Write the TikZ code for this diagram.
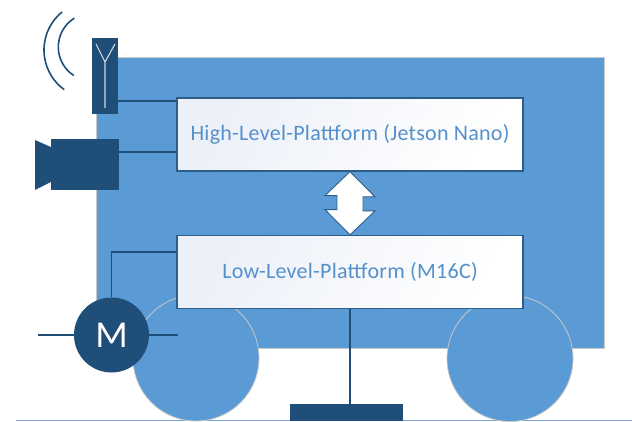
\documentclass[tikz,border=0pt]{standalone}
\usepackage{fontspec}
\setmainfont{Carlito}[LetterSpace=1.2]
\usetikzlibrary{calc}
\definecolor{bodyblue}{HTML}{5B9BD5}
\definecolor{navy}{HTML}{1F4E79}
\definecolor{boxline}{HTML}{2F5D8A}
\definecolor{labelblue}{HTML}{5590CC}
\definecolor{boxtint}{HTML}{ECF0F8}
\definecolor{groundblue}{HTML}{7FA8D6}
\definecolor{rimgrey}{HTML}{C8C8C8}
\tikzset{
  wire/.style={draw=navy, line width=1.5pt},
  platform/.style={draw=boxline, line width=1.2pt, left color=boxtint, right color=white,
    shading angle=60, minimum width=346pt, minimum height=73pt, inner sep=0pt,
    text=labelblue, font=\fontsize{22}{26}\selectfont},
  wheel/.style={circle, fill=bodyblue, draw=rimgrey, line width=0.8pt, minimum size=126pt, inner sep=0pt},
  darkbox/.style={fill=navy, draw=none, inner sep=0pt},
}
\begin{document}
\begin{tikzpicture}[x=1pt, y=-1pt]
\useasboundingbox (0,0) rectangle (632,422);

% ground
\draw[groundblue, line width=1.6pt] (16,420.5) coordinate (g1) -- (632,420.5) coordinate (g2);

% vehicle body
\node[fill=bodyblue, draw=rimgrey, line width=0.6pt, minimum width=508pt, minimum height=291pt, inner sep=0pt]
  (body) at (350,202.5) {};

% wheels
\node[wheel] (wl) at (196,358) {};
\node[wheel] (wr) at (510,358.5) {};

% platforms
\node[platform] (hi) at (350,134.5) {High-Level-Plattform (Jetson Nano)};
\node[platform] (lo) at (350,272) {Low-Level-Plattform (M16C)};

% bidirectional link between the platforms
\draw[boxline, line width=0.9pt, fill=white]
  (hi.south) -- ++(-25,24) -- ++(12,0) -- ++(0,14) -- ++(-12,0) -- (lo.north)
  -- ++(25,-24) -- ++(-12,0) -- ++(0,-14) -- ++(12,0) -- cycle;

% antenna
\node[darkbox, minimum width=26pt, minimum height=76pt] (ant) at (105,76) {};
\draw[rimgrey!70!white, line width=1.1pt] (105,108) -- (105,62) -- (96,44)
  (105,62) -- (115,44);
\draw[navy, line width=1.6pt] (93,50) ++(-129:49) arc[start angle=-129, end angle=-234, radius=49];
\draw[navy, line width=1.6pt] (92.3,47) ++(-122:34) arc[start angle=-122, end angle=-237, radius=34];

% camera
\node[darkbox, minimum width=68pt, minimum height=51pt] (cam) at (85,164.5) {};
\fill[navy] (35,140) -- (cam.west |- 0,147) -- (cam.west |- 0,182) -- (35,190) -- cycle;

% sensor wires
\draw[wire] (ant.east |- 0,101) -- (hi.west |- 0,101);
\draw[wire] (cam.east |- 0,152) -- (hi.west |- 0,152);

% motor
\node[circle, fill=navy, minimum size=75pt, inner sep=0pt, text=white,
  font=\fontsize{38}{40}\selectfont\addfontfeature{LetterSpace=0}] (motor) at (111.5,335) {M};
\coordinate (shaftL) at (38,335);
\coordinate (shaftR) at (178,335);
\draw[wire] (shaftL) -- (motor.west);
\draw[wire] (motor.east) -- (shaftR);
\draw[wire] (motor.north) |- (lo.west |- 0,252);

% bottom plate
\node[darkbox, minimum width=113pt, minimum height=17pt] (plate) at (346.5,412.5) {};
\draw[wire] (lo.south) -- (lo.south |- plate.north);
\end{tikzpicture}
\end{document}
